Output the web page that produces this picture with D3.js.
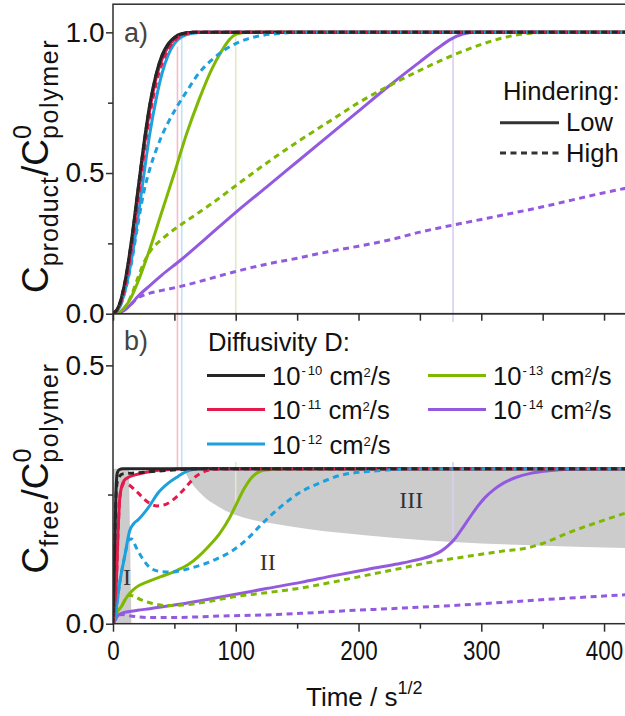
<!DOCTYPE html>
<html>
<head>
<meta charset="utf-8">
<script src="https://cdn.jsdelivr.net/npm/d3@7"></script>
<style>
  html, body { margin: 0; padding: 0; background: #fff; }
  svg { display: block; font-family: "Liberation Sans", Arial, Helvetica, sans-serif; }
</style>
</head>
<body>
<svg id="chart" width="625" height="716"></svg>
<script>
// ---------- data: [time (s^1/2), normalised concentration] ----------
// a) product concentration, low / high hindering, per diffusivity
const productLow_1e10  = [[0,0],[5,0.03],[10,0.12],[15,0.26],[20,0.43],[25,0.6],[30,0.745],[35,0.85],[40,0.92],[45,0.96],[50,0.982],[55,0.994],[65,1],[440,1]];
const productHigh_1e10 = [[0,0],[5,0.03],[10,0.118],[15,0.255],[20,0.425],[25,0.595],[30,0.74],[35,0.845],[40,0.915],[45,0.956],[50,0.98],[55,0.993],[65,1],[440,1]];
const productLow_1e11  = [[0,0],[5,0.027],[10,0.11],[15,0.245],[20,0.41],[25,0.58],[30,0.725],[35,0.835],[40,0.905],[45,0.95],[50,0.976],[55,0.991],[65,1],[440,1]];
const productHigh_1e11 = [[0,0],[5,0.024],[10,0.1],[15,0.23],[20,0.39],[25,0.56],[30,0.705],[35,0.815],[40,0.89],[45,0.94],[50,0.97],[55,0.987],[68,1],[440,1]];
const productLow_1e12  = [[0,0],[5,0.02],[10,0.085],[15,0.19],[20,0.33],[25,0.49],[30,0.64],[35,0.76],[40,0.855],[45,0.92],[50,0.96],[56,0.984],[65,0.997],[75,1],[440,1]];
const productHigh_1e12 = [[0,0],[5,0.02],[10,0.082],[15,0.18],[20,0.31],[25,0.43],[30,0.515],[35,0.58],[40,0.635],[45,0.68],[52,0.735],[60,0.79],[70,0.855],[80,0.9],[90,0.935],[100,0.96],[110,0.977],[120,0.988],[135,0.996],[150,1],[440,1]];
const productLow_1e13  = [[0,0],[5,0.005],[10,0.025],[15,0.06],[20,0.11],[30,0.23],[40,0.365],[50,0.5],[60,0.64],[70,0.76],[80,0.865],[88,0.93],[95,0.975],[100,0.993],[110,1],[440,1]];
const productHigh_1e13 = [[0,0],[5,0.005],[10,0.025],[15,0.065],[20,0.125],[25,0.18],[30,0.22],[40,0.265],[50,0.3],[60,0.33],[70,0.36],[80,0.39],[100,0.455],[125,0.535],[150,0.61],[175,0.68],[200,0.75],[225,0.81],[250,0.865],[275,0.915],[300,0.957],[320,0.983],[340,0.997],[360,1],[440,1]];
const productLow_1e14  = [[0,0],[5,0.003],[10,0.015],[15,0.035],[20,0.06],[30,0.1],[40,0.138],[55,0.19],[75,0.265],[100,0.36],[125,0.45],[150,0.54],[175,0.63],[200,0.72],[225,0.81],[250,0.895],[265,0.945],[275,0.975],[285,0.994],[295,1],[440,1]];
const productHigh_1e14 = [[0,0],[5,0.003],[10,0.015],[15,0.035],[20,0.055],[25,0.066],[30,0.073],[40,0.083],[55,0.097],[75,0.12],[100,0.15],[125,0.176],[150,0.197],[175,0.22],[200,0.24],[225,0.262],[250,0.29],[277,0.315],[300,0.335],[350,0.38],[400,0.43],[440,0.465]];

// b) free concentration, low / high hindering, per diffusivity
const freeLow_1e10  = [[0,0],[0.5,0.05],[1.5,0.16],[2.5,0.26],[3.5,0.292],[5,0.298],[8,0.3],[440,0.3]];
const freeHigh_1e10 = [[0,0],[0.5,0.05],[1.5,0.16],[2.5,0.25],[4,0.28],[8,0.29],[20,0.292],[40,0.296],[60,0.299],[80,0.3],[440,0.3]];
const freeLow_1e11  = [[0,0],[1.5,0.04],[2.7,0.08],[4,0.17],[5.4,0.24],[7,0.265],[9,0.277],[13,0.284],[18,0.288],[25,0.292],[37,0.297],[50,0.299],[60,0.3],[440,0.3]];
const freeHigh_1e11 = [[0,0],[1.5,0.04],[2.7,0.08],[4,0.17],[5.4,0.24],[7,0.262],[9,0.272],[12,0.27],[20,0.254],[28,0.236],[36,0.228],[44,0.232],[52,0.246],[60,0.266],[66,0.282],[72,0.292],[80,0.298],[90,0.3],[440,0.3]];
const freeLow_1e12  = [[0,0],[1.5,0.008],[3,0.035],[5.4,0.078],[9.5,0.13],[13.6,0.18],[17,0.194],[20.4,0.201],[28.6,0.224],[36.7,0.253],[45,0.272],[53,0.285],[60,0.295],[66,0.299],[75,0.3],[440,0.3]];
const freeHigh_1e12 = [[0,0],[1.5,0.008],[3,0.035],[5.4,0.078],[9.5,0.13],[13,0.163],[15,0.164],[19,0.147],[23,0.13],[31,0.107],[39,0.101],[48,0.1],[56,0.103],[67,0.11],[76,0.117],[85,0.126],[95,0.138],[104,0.153],[112,0.17],[120,0.19],[136,0.225],[153,0.255],[169,0.273],[185,0.287],[205,0.294],[220,0.297],[245,0.3],[440,0.3]];
const freeLow_1e13  = [[0,0],[1.5,0.014],[4,0.025],[7,0.034],[10,0.047],[13,0.057],[18,0.069],[28,0.081],[39,0.091],[50,0.101],[61,0.114],[70,0.131],[78,0.15],[87,0.175],[95,0.205],[101,0.234],[107,0.262],[113,0.283],[120,0.295],[130,0.299],[140,0.3],[440,0.3]];
const freeHigh_1e13 = [[0,0],[1.5,0.014],[4,0.025],[7,0.034],[10,0.047],[13,0.055],[16,0.054],[23,0.046],[34,0.038],[45,0.035],[56,0.036],[67,0.039],[80,0.044],[98,0.052],[125,0.06],[153,0.069],[180,0.081],[207,0.094],[234,0.107],[261,0.12],[288,0.13],[316,0.14],[338,0.147],[352,0.157],[370,0.175],[397,0.198],[420,0.216],[440,0.23]];
const freeLow_1e14  = [[0,0],[2,0.008],[4,0.016],[8,0.021],[12,0.023],[20,0.026],[30,0.029],[50,0.036],[70,0.044],[100,0.057],[125,0.068],[153,0.08],[180,0.093],[207,0.105],[230,0.115],[250,0.125],[260,0.132],[267,0.14],[273,0.151],[279,0.166],[285,0.186],[291,0.207],[297,0.227],[303,0.244],[310,0.259],[318,0.272],[328,0.283],[340,0.291],[355,0.296],[372,0.299],[395,0.3],[440,0.3]];
const freeHigh_1e14 = [[0,0],[2,0.008],[4,0.015],[7,0.018],[12,0.016],[18,0.014],[28,0.012],[50,0.012],[67,0.013],[90,0.015],[125,0.017],[153,0.02],[190,0.025],[234,0.03],[275,0.035],[316,0.041],[360,0.048],[418,0.056],[440,0.059]];

// shaded regimes in b)
const regionI_outline     = [[0,0],[0,0.3],[13,0.3],[15,0]];
const regionIII_lowerEdge = [[57,0.3],[60,0.288],[63,0.275],[67,0.263],[71,0.253],[76,0.242],[82,0.232],[95,0.215],[110,0.203],[135,0.192],[160,0.183],[185,0.176],[230,0.166],[277,0.158],[350,0.151],[440,0.145]];
const regionIII_top       = 0.3;
const regionLabels        = ["I", "II", "III"];
const regionLabelAt       = [[11.5, 0.075], [126, 0.104], [243, 0.224]];

// completion markers: time, value on a) and on b)
const markerTimes     = [52.5, 56, 100, 277];
const markerTopValue  = [0.95, 0.985, 0.99, 0.98];
const markerFreeValue = [0.297, 0.29, 0.229, 0.16];

// axes
const xTicksMajor  = [0, 100, 200, 300, 400];
const xTicksMinor  = [50, 150, 250, 350];
const yTicksA      = [0, 0.5, 1.0];
const yTicksAMinor = [0.25, 0.75];
const yTicksB      = [0, 0.5];
const yTicksBMinor = [0.25];

// legend content
const diffusivityExp = ["-10", "-11", "-12", "-13", "-14"];
const hinderingLevels = ["Low", "High"];

// ---------- styling ----------
const palette = ["#262626", "#e6194b", "#1ca0de", "#7fb800", "#935ae0"];
const paleMarker = ["#f5bccb", "#bfe2f5", "#dfeac6", "#dacff3"];
const DASH = "6,4.5";

const seriesA = [
  [productLow_1e10, productHigh_1e10], [productLow_1e11, productHigh_1e11],
  [productLow_1e12, productHigh_1e12], [productLow_1e13, productHigh_1e13],
  [productLow_1e14, productHigh_1e14]
];
const seriesB = [
  [freeLow_1e10, freeHigh_1e10], [freeLow_1e11, freeHigh_1e11],
  [freeLow_1e12, freeHigh_1e12], [freeLow_1e13, freeHigh_1e13],
  [freeLow_1e14, freeHigh_1e14]
];

// ---------- scales ----------
const X0 = 113, X1 = 628.6;
const x  = d3.scaleLinear().domain([0, 420]).range([X0, X1]);
const yA = d3.scaleLinear().domain([0, 1.1]).range([313.7, 4.2]);
const yB = d3.scaleLinear().domain([0, 0.6]).range([623.7, 313.7]);

const svg = d3.select("#chart");
const defs = svg.append("defs");
defs.append("clipPath").attr("id", "clipA").append("rect")
  .attr("x", X0).attr("y", yA(1.1)).attr("width", X1 - X0).attr("height", yA(0) - yA(1.1));
defs.append("clipPath").attr("id", "clipB").append("rect")
  .attr("x", X0).attr("y", yB(0.6)).attr("width", X1 - X0).attr("height", yB(0) - yB(0.6));

// ---------- shaded regimes ----------
const gShade = svg.append("g").attr("clip-path", "url(#clipB)");
gShade.append("path")
  .attr("d", d3.line().x(d => x(d[0])).y(d => yB(d[1]))(regionI_outline) + "Z")
  .attr("fill", "#cccccc");
gShade.append("path")
  .attr("d", d3.area().x(d => x(d[0])).y0(yB(regionIII_top)).y1(d => yB(d[1]))
    .curve(d3.curveMonotoneX)(regionIII_lowerEdge))
  .attr("fill", "#cccccc");

// ---------- completion markers (span both panels) ----------
markerTimes.forEach((t, i) => {
  svg.append("line")
    .attr("x1", x(t)).attr("x2", x(t))
    .attr("y1", yA(markerTopValue[i])).attr("y2", yB(markerFreeValue[i]))
    .attr("stroke", paleMarker[i]).attr("stroke-width", 1.6);
});

// legend background in b)
svg.append("rect").attr("x", 196).attr("y", 322).attr("width", 430).attr("height", 140).attr("fill", "#fff");

// region labels
regionLabels.forEach((lab, i) => {
  svg.append("text")
    .attr("x", x(regionLabelAt[i][0])).attr("y", yB(regionLabelAt[i][1]))
    .attr("text-anchor", "middle")
    .attr("font-family", "'Liberation Serif','Times New Roman',serif")
    .attr("font-size", 24).attr("fill", "#333")
    .text(lab);
});

// ---------- curves ----------
const lineA = d3.line().x(d => x(d[0])).y(d => yA(d[1])).curve(d3.curveMonotoneX);
const lineB = d3.line().x(d => x(d[0])).y(d => yB(d[1])).curve(d3.curveMonotoneX);

function drawPanel(series, gen, clip) {
  const g = svg.append("g").attr("clip-path", `url(#${clip})`).attr("fill", "none");
  // solid (low hindering) underneath, dashed (high hindering) on top
  for (let i = series.length - 1; i >= 0; i--) {
    g.append("path").attr("d", gen(series[i][0]))
      .attr("stroke", palette[i]).attr("stroke-width", 3).attr("stroke-linejoin", "round");
  }
  for (let i = series.length - 1; i >= 0; i--) {
    g.append("path").attr("d", gen(series[i][1]))
      .attr("stroke", palette[i]).attr("stroke-width", 3).attr("stroke-dasharray", DASH);
  }
}
drawPanel(seriesA, lineA, "clipA");
drawPanel(seriesB, lineB, "clipB");

// ---------- frames and axes ----------
const AX = "#2e2e2e";
[[yA(1.1), yA(0)], [yB(0.6), yB(0)]].forEach(([top, bot]) => {
  svg.append("rect").attr("x", X0).attr("y", top).attr("width", X1 - X0).attr("height", bot - top)
    .attr("fill", "none").attr("stroke", AX).attr("stroke-width", 1.5);
});

function styleAxis(g, fs) {
  g.select(".domain").remove();
  g.selectAll("line").attr("stroke", AX).attr("stroke-width", 1.5);
  g.selectAll("text").attr("font-size", fs).attr("fill", "#111")
    .attr("font-family", "'Liberation Sans', Arial, sans-serif");
}

// y axes
svg.append("g").attr("transform", `translate(${X0},0)`)
  .call(d3.axisLeft(yA).tickValues(yTicksA).tickSize(7).tickPadding(1.5).tickFormat(d3.format(".1f")))
  .call(g => styleAxis(g, 28));
svg.append("g").attr("transform", `translate(${X0},0)`)
  .call(d3.axisLeft(yA).tickValues(yTicksAMinor).tickSize(5).tickFormat(""))
  .call(g => styleAxis(g, 28));
svg.append("g").attr("transform", `translate(${X0},0)`)
  .call(d3.axisLeft(yB).tickValues(yTicksB).tickSize(7).tickPadding(1.5).tickFormat(d3.format(".1f")))
  .call(g => styleAxis(g, 28));
svg.append("g").attr("transform", `translate(${X0},0)`)
  .call(d3.axisLeft(yB).tickValues(yTicksBMinor).tickSize(5).tickFormat(""))
  .call(g => styleAxis(g, 28));

// x ticks on the shared boundary between panels
svg.append("g").attr("transform", `translate(0,${yA(0)})`)
  .call(d3.axisBottom(x).tickValues(xTicksMajor.concat(xTicksMinor)).tickSize(7).tickFormat(""))
  .call(g => styleAxis(g, 28));
// bottom x axis (narrow numerals)
svg.append("g").attr("transform", `translate(0,${yB(0)})`)
  .call(d3.axisBottom(x).tickValues(xTicksMajor).tickSize(8).tickPadding(8).tickFormat(d3.format("d")))
  .call(g => styleAxis(g, 28))
  .call(g => g.selectAll("text").attr("transform", "scale(0.8,1)"));
svg.append("g").attr("transform", `translate(0,${yB(0)})`)
  .call(d3.axisBottom(x).tickValues(xTicksMinor).tickSize(5).tickFormat(""))
  .call(g => styleAxis(g, 28));

// ---------- axis titles ----------
const xt = svg.append("text").attr("x", 306).attr("y", 706).attr("font-size", 26).attr("fill", "#111");
xt.append("tspan").text("Time / s");
xt.append("tspan").attr("font-size", 18).attr("dy", -12).text("1/2");

function yTitle(cx, cy, sub) {
  const t = svg.append("text")
    .attr("transform", `translate(${cx},${cy}) rotate(-90)`)
    .attr("text-anchor", "middle").attr("font-size", 37).attr("fill", "#111");
  t.append("tspan").text("C");
  t.append("tspan").attr("font-size", 25).attr("dy", 10).attr("letter-spacing", 1).text(sub);
  t.append("tspan").attr("font-size", 37).attr("dy", -10).text("/C");
  t.append("tspan").attr("font-size", 25).attr("dy", -17).text("0");
  t.append("tspan").attr("font-size", 25).attr("dx", -14).attr("dy", 27).attr("letter-spacing", 1.6).text("polymer");
}
yTitle(48, 166, "product");
yTitle(48, 468, "free");

// ---------- panel letters ----------
svg.append("text").attr("x", 124).attr("y", 42).attr("font-size", 27).attr("fill", "#444").text("a)");
svg.append("text").attr("x", 124).attr("y", 350).attr("font-size", 27).attr("fill", "#444").text("b)");

// ---------- legend: hindering ----------
const LF = 25.6;
svg.append("text").attr("x", 503).attr("y", 100).attr("font-size", LF).attr("fill", "#111").text("Hindering:");
hinderingLevels.forEach((lab, i) => {
  const yy = [122.7, 153][i];
  svg.append("line").attr("x1", 500).attr("x2", 559).attr("y1", yy).attr("y2", yy)
    .attr("stroke", "#333").attr("stroke-width", 3)
    .attr("stroke-dasharray", i ? DASH : null);
  svg.append("text").attr("x", 566).attr("y", yy + 8.5).attr("font-size", LF).attr("fill", "#111").text(lab);
});

// ---------- legend: diffusivity ----------
svg.append("text").attr("x", 208).attr("y", 351).attr("font-size", LF).attr("fill", "#111").text("Diffusivity D:");
const legPos = [[207, 375.5], [207, 409.5], [207, 444], [428, 375.5], [428, 409.5]];
diffusivityExp.forEach((e, i) => {
  const [lx, ly] = legPos[i];
  svg.append("line").attr("x1", lx).attr("x2", lx + 58).attr("y1", ly).attr("y2", ly)
    .attr("stroke", palette[i]).attr("stroke-width", 3);
  const t = svg.append("text").attr("x", lx + 65).attr("y", ly + 9.5).attr("font-size", LF).attr("fill", "#111");
  t.append("tspan").text("10");
  t.append("tspan").attr("font-size", 13).attr("dy", -10).attr("dx", 1).text("-");
  t.append("tspan").attr("font-size", 13).attr("dx", 2).text(e.slice(1));
  t.append("tspan").attr("dy", 10).text(" cm");
  t.append("tspan").attr("font-size", 13).attr("dy", -8).text("2");
  t.append("tspan").attr("dy", 8).text("/s");
});
</script>
</body>
</html>
